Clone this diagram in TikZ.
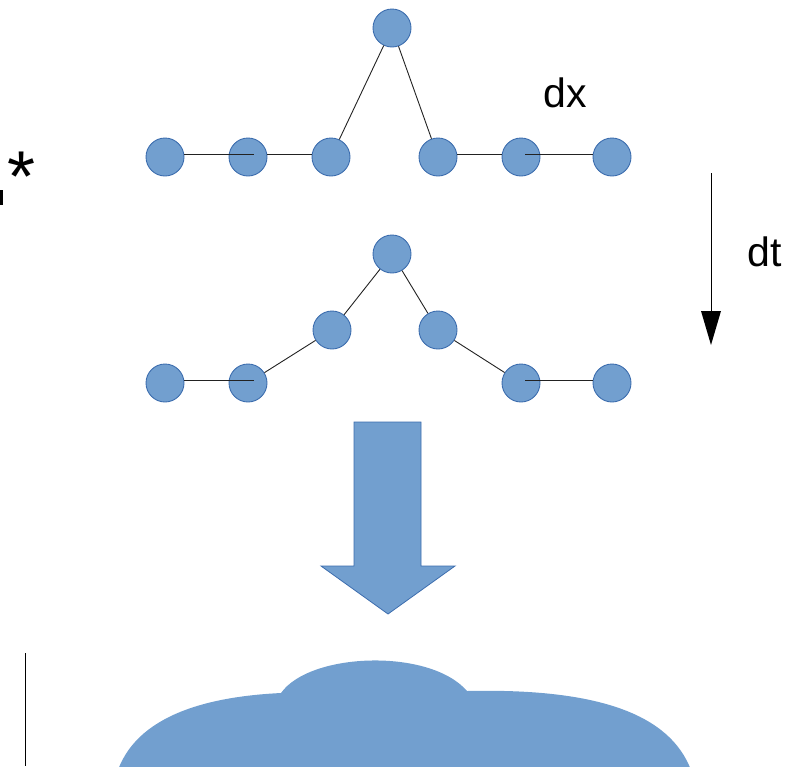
\documentclass[tikz,border=0pt]{standalone}
\usepackage{fontspec}
\setmainfont{Liberation Sans}
\definecolor{fillblue}{HTML}{729FCF}
\definecolor{edgeblue}{HTML}{3C6DAE}
\definecolor{linegray}{HTML}{222222}
\tikzset{
  ball/.style={circle, draw=edgeblue, line width=0.9pt, fill=fillblue, minimum size=38pt, inner sep=0pt},
  link/.style={draw=linegray, line width=0.9pt},
  bigtext/.style={font=\fontsize{41}{48}\selectfont, inner sep=0pt}
}
\begin{document}
\begin{tikzpicture}[x=1pt,y=-1pt]
\useasboundingbox (0,0) rectangle (800,766);
% ---- top row ----
\node[ball] (t0) at (392,28) {};
\node[ball] (t1) at (165,157) {};
\node[ball] (t2) at (248,157) {};
\node[ball] (t3) at (331,157) {};
\node[ball] (t4) at (438,157) {};
\node[ball] (t5) at (521,157) {};
\node[ball] (t6) at (612,157) {};
\draw[link] (t3) -- (t0);
\draw[link] (t4) -- (t0);
\draw[link] ([yshift=3pt]t1.east) -- ([yshift=3pt,xshift=6pt]t2.center);
\draw[link] ([yshift=3pt]t2.east) -- ([yshift=3pt]t3.west);
\draw[link] ([yshift=3pt]t4.east) -- ([yshift=3pt]t5.west);
\draw[link] ([yshift=3pt,xshift=4pt]t5.center) -- ([yshift=3pt]t6.west);
% ---- second row ----
\node[ball] (s0) at (392,254) {};
\node[ball] (s3) at (332,330) {};
\node[ball] (s4) at (438,330) {};
\node[ball] (s1) at (165,383) {};
\node[ball] (s2) at (248,383) {};
\node[ball] (s5) at (521,383) {};
\node[ball] (s6) at (612,383) {};
\draw[link] (s3) -- (s0);
\draw[link] (s4) -- (s0);
\draw[link] (s2) -- (s3);
\draw[link] (s4) -- (s5);
\draw[link] ([yshift=2.5pt]s1.east) -- ([yshift=2.5pt,xshift=6pt]s2.center);
\draw[link] ([yshift=2.5pt,xshift=4pt]s5.center) -- ([yshift=2.5pt]s6.west);
% ---- labels ----
\node[bigtext] (dx) at (565,93) {dx};
\node[bigtext] (dt) at (765,252) {dt};
\node[font=\fontsize{72}{80}\selectfont, inner sep=0pt] (star) at (22,177) {*};
\fill (0,190) rectangle (3,205);
% ---- dt arrow ----
\coordinate (a1) at (711,173);
\coordinate (a2) at (711,312);
\draw[line width=0.9pt] (a1) -- (a2);
\fill (701,311) -- (721,311) -- (711,345) -- cycle;
% ---- big arrow ----
\draw[fill=fillblue, draw=edgeblue, line width=0.8pt]
  (354,422) -- (421,422) -- (421,566) -- (455,566) -- (388,614) -- (321,566) -- (354,566) -- cycle;
% ---- cloud ----
\fill[fillblue] (118,770) .. controls (140,710) and (220,696) .. (281,693)
  .. controls (310,652) and (430,648) .. (467,691)
  .. controls (600,688) and (670,715) .. (691,770) -- cycle;
% ---- vertical line ----
\draw[line width=0.9pt] (25,653) -- (25,766);
\end{tikzpicture}
\end{document}
